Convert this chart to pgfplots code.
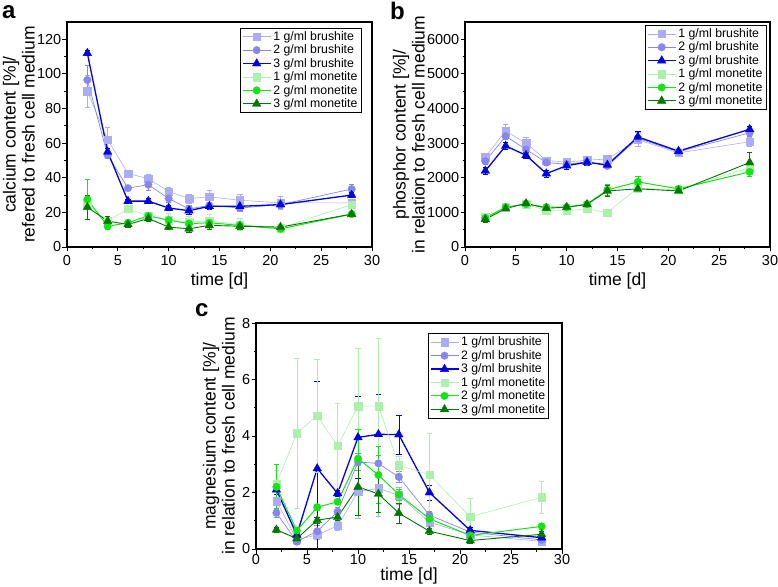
\documentclass[border=0pt]{standalone}
\usepackage{pgfplots}
\pgfplotsset{compat=1.18}
\usepackage{pgfplotstable}
\usepackage{fontspec}
\setmainfont{Liberation Sans}
\definecolor{b1}{RGB}{172,172,245}
\definecolor{b2}{RGB}{135,135,235}
\definecolor{b3}{RGB}{0,0,225}
\definecolor{m1}{RGB}{172,240,172}
\definecolor{m2}{RGB}{20,228,20}
\definecolor{m3}{RGB}{0,120,0}

% Panel a: calcium
\pgfplotstableread{
x y e
2 90 9
4 62 7
6 42.5 1.5
8 39.5 2.5
10 32 2.5
12 28 2.5
14 29 3.5
17 27 3.5
21 25.5 4
28 25.5 1.5
}\caBa
\pgfplotstableread{
x y e
2 96.5 8.5
4 53 2
6 34 1
8 36 3
10 28 2
12 22 2
14 24 2
17 22.5 2
21 24.5 2
28 33.5 2.5
}\caBb
\pgfplotstableread{
x y e
2 112 1.5
4 55 2
6 26.5 1
8 26.5 1.5
10 22.5 1.5
12 21 2
14 23.5 1.5
17 23.5 1.5
21 24.5 1.5
28 30 1.5
}\caBc
\pgfplotstableread{
x y e
2 25 3
4 15 2
6 22 2
8 18 1.5
10 15.5 4
12 14.5 3
14 15 4
17 13 3.5
21 11 1.5
28 24.5 1.5
}\caMa
\pgfplotstableread{
x y e
2 27.5 11.5
4 12 1.5
6 14 1.5
8 18 1.5
10 15.5 2
12 13.5 2
14 14 2
17 12.5 1.5
21 10.5 1
28 19 1.5
}\caMb
\pgfplotstableread{
x y e
2 23 7
4 15 2.5
6 13 1.5
8 16.5 1.5
10 11.5 1.5
12 10.5 2
14 12.5 2.5
17 12 2
21 11.5 1
28 19 1.5
}\caMc

% Panel b: phosphor
\pgfplotstableread{
x y e
2 2600 100
4 3350 200
6 3000 180
8 2500 80
10 2450 80
12 2510 80
14 2540 80
17 3100 200
21 2720 60
28 3040 120
}\phBa
\pgfplotstableread{
x y e
2 2480 80
4 3200 100
6 2820 100
8 2440 80
10 2390 80
12 2460 80
14 2340 80
17 3140 100
21 2750 60
28 3300 100
}\phBb
\pgfplotstableread{
x y e
2 2200 100
4 2920 100
6 2650 100
8 2120 100
10 2350 100
12 2450 100
14 2370 80
17 3180 150
21 2770 60
28 3400 80
}\phBc
\pgfplotstableread{
x y e
2 860 80
4 1150 60
6 1240 80
8 1050 60
10 1050 60
12 1100 60
14 1000 50
17 1700 100
21 1650 60
28 2300 150
}\phMa
\pgfplotstableread{
x y e
2 840 60
4 1150 60
6 1240 100
8 1150 60
10 1150 60
12 1240 60
14 1650 150
17 1880 160
21 1680 60
28 2170 120
}\phMb
\pgfplotstableread{
x y e
2 800 80
4 1110 60
6 1260 100
8 1120 80
10 1150 60
12 1230 60
14 1620 150
17 1680 100
21 1620 60
28 2440 300
}\phMc

% Panel c: magnesium
\pgfplotstableread{
x y e
2 1.7 0.5
4 0.33 0.1
6 0.5 0.15
8 0.82 0.15
10 2.03 0.95
12 2.15 1.0
14 1.9 0.3
17 0.95 0.15
21 0.5 0.1
28 0.27 0.1
}\mgBa
\pgfplotstableread{
x y e
2 1.28 0.15
4 0.26 0.1
6 0.63 0.2
8 1.32 0.15
10 3.08 0.3
12 3.03 0.3
14 2.55 0.2
17 1.2 0.15
21 0.6 0.1
28 0.32 0.1
}\mgBb
\pgfplotstableread{
x y e
2 2.1 0.15
4 0.5 0.1
6 2.85 3.1
8 1.97 0.1
10 3.95 1.45
12 4.06 1.4
14 4.05 0.68
17 2.0 0.27
21 0.66 0.1
28 0.4 0.1
}\mgBc
\pgfplotstableread{
x y e
2 2.3 0.5
4 4.1 2.65
6 4.72 2.0
8 3.65 1.52
10 5.06 2.05
12 5.06 2.4
14 2.97 0.3
17 2.63 1.45
21 1.14 0.67
28 1.83 0.57
}\mgMa
\pgfplotstableread{
x y e
2 2.2 0.8
4 0.65 0.1
6 1.48 0.1
8 1.67 0.1
10 3.2 1.05
12 2.62 1.0
14 1.93 0.2
17 1.07 0.15
21 0.48 0.1
28 0.8 0.1
}\mgMb
\pgfplotstableread{
x y e
2 0.68 0.1
4 0.37 0.1
6 1.02 0.1
8 1.13 0.1
10 2.2 1.0
12 1.95 0.65
14 1.27 0.35
17 0.63 0.1
21 0.3 0.1
28 0.52 0.1
}\mgMc

\pgfplotsset{
  myax/.style={
    scale only axis, width=305pt, height=225pt,
    xmin=0, xmax=30, xtick={0,5,...,30}, ymin=0,
    minor x tick num=1, minor y tick num=1,
    tick align=outside, xtick pos=bottom, ytick pos=left,
    axis line style={line width=1.1pt},
    major tick length=4.5pt, minor tick length=2.5pt,
    every tick/.style={black, line width=0.9pt},
    tick label style={font=\fontsize{14.5}{14.5}\selectfont},
    yticklabel style={inner sep=1pt},
    label style={font=\fontsize{17.5}{19}\selectfont},
    ylabel style={align=center},
    xlabel={time [d]},
    xlabel style={inner sep=1pt},
    /pgf/number format/assume math mode=true,
    /pgf/number format/1000 sep={},
    scaled y ticks=false,
    legend cell align=left,
    legend image code/.code={\draw[mark repeat=2,mark phase=2] plot coordinates {(0pt,0pt) (14pt,0pt) (28pt,0pt)};},
    legend style={anchor=north east, draw=black, line width=0.8pt,
      font=\fontsize{12.3}{13}\selectfont, inner sep=1.5pt, row sep=-1pt},
  },
  ser/.style n args={4}{color=#1, mark=#2, line width=#3, mark size=#4,
    mark options={solid, line width=0.3pt, fill=#1},
    error bars/.cd, y dir=both, y explicit,
    error bar style={line width=0.6pt, color=#1},
    error mark options={line width=0.6pt, color=#1, mark size=2.8pt, rotate=90}},
}
\newcommand{\plotsix}[6]{%
  \addplot[ser={b1}{square*}{0.6pt}{3.7pt}] table[x=x,y=y,y error=e]{#1};
  \addlegendentry{1 g/ml brushite}
  \addplot[ser={b2}{*}{0.7pt}{3.8pt}] table[x=x,y=y,y error=e]{#2};
  \addlegendentry{2 g/ml brushite}
  \addplot[ser={b3}{triangle*}{1.3pt}{5pt}] table[x=x,y=y,y error=e]{#3};
  \addlegendentry{3 g/ml brushite}
  \addplot[ser={m1}{square*}{0.6pt}{3.7pt}] table[x=x,y=y,y error=e]{#4};
  \addlegendentry{1 g/ml monetite}
  \addplot[ser={m2}{*}{1.0pt}{3.8pt}] table[x=x,y=y,y error=e]{#5};
  \addlegendentry{2 g/ml monetite}
  \addplot[ser={m3}{triangle*}{0.9pt}{5pt}] table[x=x,y=y,y error=e]{#6};
  \addlegendentry{3 g/ml monetite}
}

\begin{document}
\begin{tikzpicture}[x=1pt,y=1pt]
\path[use as bounding box] (0,0) rectangle (778,586);

\begin{axis}[myax, at={(67pt,339pt)}, ymax=130, ytick={0,20,...,120},
  xlabel style={yshift=-3pt}, ylabel style={yshift=-2.2pt},
  ylabel={calcium content [\%]/\\refered to fresh cell medium},
  legend style={at={(0.965,0.975)}}]
\plotsix{\caBa}{\caBb}{\caBc}{\caMa}{\caMb}{\caMc}
\end{axis}

\begin{axis}[myax, at={(465pt,339pt)}, ymax=6500, ytick={0,1000,...,6000},
  xlabel style={yshift=-3pt}, ylabel style={yshift=-2.2pt},
  ylabel={phosphor content [\%]/\\in relation to fresh cell medium},
  legend style={at={(0.988,0.988)}}]
\plotsix{\phBa}{\phBb}{\phBc}{\phMa}{\phMb}{\phMc}
\end{axis}

\begin{axis}[myax, at={(256pt,37pt)}, width=306pt, height=226pt,
  ymax=8, ytick={0,2,...,8},
  xticklabel style={inner sep=1pt},
  xlabel style={yshift=-0.5pt}, ylabel style={yshift=2.8pt},
  ylabel={magnesium content [\%]/\\in relation to fresh cell medium},
  legend style={at={(0.958,0.955)}}]
\plotsix{\mgBa}{\mgBb}{\mgBc}{\mgMa}{\mgMb}{\mgMc}
\end{axis}

\node[font=\bfseries\fontsize{24}{24}\selectfont, anchor=north west, inner sep=0pt] at (2,581) {a};
\node[font=\bfseries\fontsize{24}{24}\selectfont, anchor=north west, inner sep=0pt] at (390,584) {b};
\node[font=\bfseries\fontsize{24}{24}\selectfont, anchor=north west, inner sep=0pt] at (195,283) {c};
\end{tikzpicture}
\end{document}
